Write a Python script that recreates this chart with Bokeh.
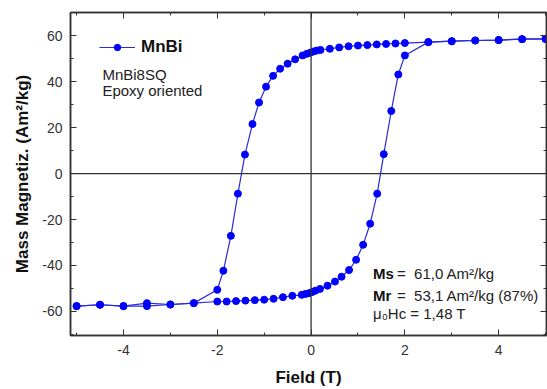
from bokeh.plotting import figure
from bokeh.models import Range1d, LinearAxis, FixedTicker, Span, Label, Legend, LegendItem
from bokeh.embed import file_html
from bokeh.resources import INLINE

# Descending branch (field from +5 T to -5 T)
down_field = [5.0, 4.5, 4.0, 3.5, 3.0, 2.5, 2.0, 1.8, 1.6, 1.4, 1.2, 1.0, 0.8, 0.6, 0.4, 0.2,
              0.12, 0.05, -0.02, -0.09, -0.18, -0.34, -0.5, -0.66, -0.81, -0.96, -1.11,
              -1.25, -1.41, -1.56, -1.71, -1.87, -2.0, -2.5, -3.0, -3.5, -4.0, -4.5, -5.0]
down_mag = [58.7, 58.6, 58.2, 58.0, 57.7, 57.3, 56.9, 56.7, 56.5, 56.3, 56.0, 55.8, 55.5, 55.0,
            54.4, 53.9, 53.6, 53.2, 52.7, 52.2, 51.5, 49.8, 47.9, 45.7, 42.6, 37.9, 31.0,
            21.6, 8.3, -8.7, -27.1, -42.3, -50.6, -56.4, -57.0, -56.4, -57.7, -57.1, -57.7]

# Ascending branch (field from -5 T to +5 T)
up_field = [-5.0, -4.5, -4.0, -3.5, -3.0, -2.5, -2.0, -1.8, -1.6, -1.4, -1.2, -1.0, -0.8, -0.6,
            -0.4, -0.2, -0.12, -0.05, 0.02, 0.09, 0.19, 0.35, 0.51, 0.65, 0.81, 0.96, 1.11,
            1.26, 1.41, 1.55, 1.71, 1.86, 2.0, 2.5, 3.0, 3.5, 4.0, 4.5, 5.0]
up_mag = [-57.7, -57.1, -57.7, -57.7, -57.0, -56.4, -55.7, -55.7, -55.5, -55.3, -55.1, -54.9,
          -54.5, -53.8, -53.2, -52.8, -52.4, -52.1, -51.6, -51.0, -50.2, -48.8, -47.0, -44.9,
          -42.0, -37.5, -31.0, -21.8, -8.7, 8.5, 27.3, 43.2, 51.5, 57.3, 57.7, 58.0, 58.2,
          58.6, 58.7]

x_major = [-4, -2, 0, 2, 4]
x_minor = [-5, -3, -1, 1, 3, 5]
y_major = [-60, -40, -20, 0, 20, 40, 60]
y_minor = [-70, -50, -30, -10, 10, 30, 50, 70]

series_name = "MnBi"
sample_lines = ["MnBi8SQ", "Epoxy oriented"]
stat_keys = ["Ms", "Mr"]
stat_vals = ["=\u00a0 61,0 Am²/kg", "=\u00a0 53,1 Am²/kg (87%)"]
hc_text = "μ₀Hc = 1,48 T"

FONT = "Liberation Sans"
BLUE = "#0000ff"
LINE = "#2a2ad8"
AX = "#333333"

p = figure(width=547, height=389, x_range=Range1d(-5.13, 5.02), y_range=Range1d(-70.5, 70.2),
           output_backend="svg", toolbar_location=None,
           min_border_left=70, min_border_right=1, min_border_top=12, min_border_bottom=52)
p.grid.visible = False
p.outline_line_color = AX
p.outline_line_width = 1.5

xt = FixedTicker(ticks=x_major, minor_ticks=x_minor)
yt = FixedTicker(ticks=y_major, minor_ticks=y_minor)


def style(ax, label_font_size):
    ax.axis_line_color = AX
    ax.axis_line_width = 1.5
    ax.major_tick_line_color = AX
    ax.minor_tick_line_color = AX
    ax.major_tick_in = 6
    ax.major_tick_out = 0
    ax.minor_tick_in = 3
    ax.minor_tick_out = 0
    ax.major_label_text_font = FONT
    ax.major_label_text_font_size = label_font_size
    ax.major_label_text_color = "#333333"


xa = p.xaxis[0]
xa.ticker = xt
style(xa, "14px")
xa.major_label_overrides = {t: str(t) for t in x_major}
xa.major_label_standoff = 9
xa.axis_label = "Field (T)"
xa.axis_label_text_font = FONT
xa.axis_label_text_font_size = "17px"
xa.axis_label_text_font_style = "bold"
xa.axis_label_text_color = "#111111"
xa.axis_label_standoff = 10

ya = p.yaxis[0]
ya.ticker = yt
style(ya, "14px")
ya.major_label_overrides = {t: str(t) for t in y_major}
ya.major_label_standoff = 8
ya.axis_label = "Mass Magnetiz. (Am²/kg)"
ya.axis_label_text_font = FONT
ya.axis_label_text_font_size = "17px"
ya.axis_label_text_font_style = "bold"
ya.axis_label_text_color = "#111111"
ya.axis_label_standoff = 7

top = LinearAxis(ticker=xt)
style(top, "0px")
top.major_label_text_color = None
top.major_label_standoff = 0
p.add_layout(top, "above")

right = LinearAxis(ticker=yt)
style(right, "0px")
right.major_label_text_color = None
right.major_label_standoff = 0
p.add_layout(right, "right")

p.add_layout(Span(location=0, dimension="height", line_color=AX, line_width=1.3))
p.add_layout(Span(location=0, dimension="width", line_color=AX, line_width=1.3))

l1 = p.line(down_field, down_mag, line_color=LINE, line_width=1.2)
s1 = p.scatter(down_field, down_mag, size=7, fill_color=BLUE, line_color=BLUE)
p.line(up_field, up_mag, line_color=LINE, line_width=1.2)
p.scatter(up_field, up_mag, size=7, fill_color=BLUE, line_color=BLUE)

legend = Legend(items=[LegendItem(label=series_name, renderers=[l1, s1])],
                location=(29, 278), orientation="vertical",
                background_fill_alpha=0, border_line_color=None,
                glyph_width=36, glyph_height=16, label_standoff=6, padding=4, margin=0,
                label_text_font=FONT, label_text_font_size="17px", label_text_font_style="bold",
                label_text_color="#111111")
p.add_layout(legend)

for txt, yy in zip(sample_lines, [43.3, 36.4]):
    p.add_layout(Label(x=-4.45, y=yy, text=txt, text_font=FONT, text_font_size="15px",
                       text_baseline="middle", text_align="left", text_color="#222222"))

for key, val, yy in zip(stat_keys, stat_vals, [-43.7, -53.2]):
    p.add_layout(Label(x=1.32, y=yy, text=key, text_font=FONT, text_font_size="15px",
                       text_font_style="bold", text_baseline="middle", text_color="#111111"))
    p.add_layout(Label(x=1.32, y=yy, x_offset=24, text=val, text_font=FONT, text_font_size="15px",
                       text_baseline="middle", text_color="#222222"))
p.add_layout(Label(x=1.32, y=-61.0, text=hc_text, text_font=FONT, text_font_size="15px",
                   text_baseline="middle", text_color="#222222"))

open("out.html", "w").write(file_html(p, INLINE))
